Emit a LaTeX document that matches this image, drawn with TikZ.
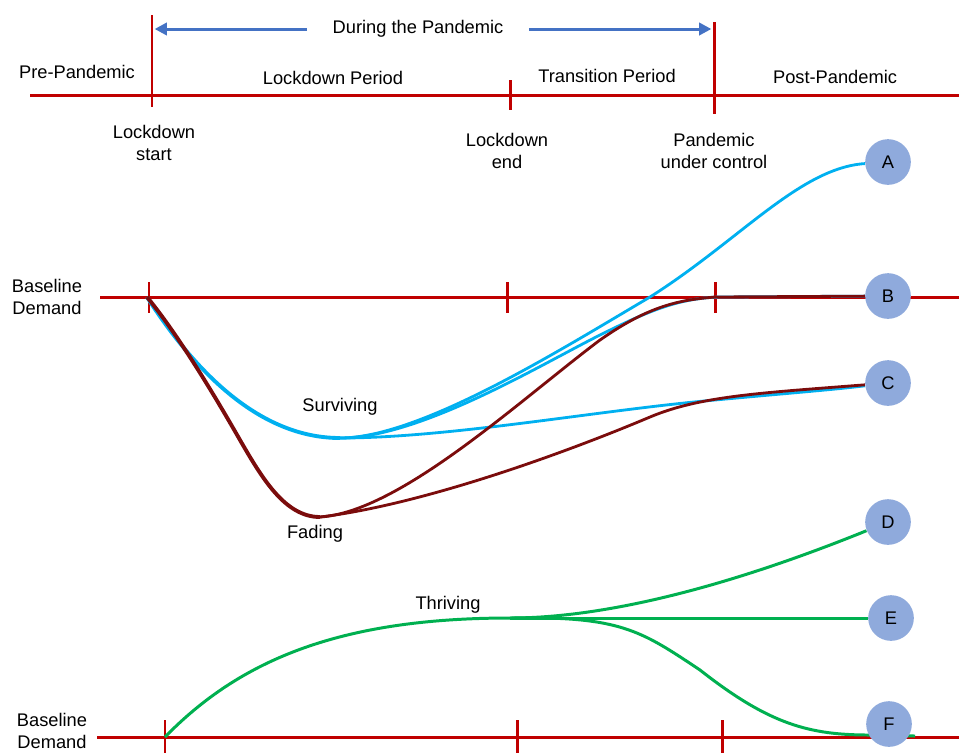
\documentclass[tikz,border=0pt]{standalone}
\usepackage{fontspec}
\setmainfont{Liberation Sans}
\usetikzlibrary{arrows.meta,positioning}

\definecolor{axisred}{HTML}{C00000}
\definecolor{survblue}{HTML}{00B0F0}
\definecolor{fadered}{HTML}{7B0C0C}
\definecolor{thrivegreen}{HTML}{00B050}
\definecolor{arrowblue}{HTML}{4472C4}
\definecolor{endfill}{HTML}{8FAADC}

\pgfdeclarelayer{bg}
\pgfsetlayers{bg,main}

\def\topy{95}
\def\midy{297}
\def\boty{737}

\tikzset{
  axis/.style={draw=axisred, line width=1.7pt},
  survive/.style={draw=survblue, line width=1.6pt},
  fade/.style={draw=fadered, line width=1.6pt},
  thrive/.style={draw=thrivegreen, line width=1.7pt},
  pandarrow/.style={draw=arrowblue, line width=1.7pt,
    -{Triangle[length=7pt,width=7pt]}, shorten >=1.5pt},
  endpt/.style={circle, fill=endfill, minimum size=26pt, inner sep=0pt},
  lbl/.style={align=center, font=\fontsize{10.4}{12.5}\selectfont},
}

\begin{document}
\begin{tikzpicture}[x=0.02cm, y=-0.02cm, nodes={lbl}]
\useasboundingbox (0,0) rectangle (959,752);

% time line at the top
\coordinate (ls) at (152,\topy);
\coordinate (le) at (510,\topy);
\coordinate (pc) at (714,\topy);
\draw[axis] (30,\topy) -- (959,\topy);
\draw[axis] ([yshift=45.4pt]ls) -- ([yshift=-6.8pt]ls);
\draw[axis] ([yshift=8.5pt]le) -- ([yshift=-8.5pt]le);
\draw[axis] ([yshift=41.4pt]pc) -- ([yshift=-10.8pt]pc);

\node (pre)   at (77,72)  {Pre-Pandemic};
\node (lockp) at (333,78) {Lockdown Period};
\node (trans) at (607,76) {Transition Period};
\node (post)  at (835,77) {Post-Pandemic};

\node (during) at (418,29) {During the Pandemic};
\draw[pandarrow] ([xshift=-11pt]during.west) -- (ls |- during);
\draw[pandarrow] ([xshift=11pt]during.east) -- (pc |- during);

\node (lsl) at (154,143) {Lockdown\\start};
\node (lel) at (507,151) {Lockdown\\end};
\node (pcl) at (714,151) {Pandemic\\under control};

% end points
\foreach \name/\xx/\yy in {
    A/888/162,
    B/888/296,
    C/888/383,
    D/888/522,
    E/891/618,
    F/889/724%
  } {
    \node[endpt] (\name) at (\xx,\yy) {\name};
  }

% base lines
\node (base1) at (47,\midy) {Baseline\\Demand};
\node (base2) at (52,731)   {Baseline\\Demand};
\coordinate (mstart) at (147,\midy);
\coordinate (bstart) at (165,\boty);
\coordinate (sdip)   at (340,438);     % bottom of Surviving
\coordinate (fdip)   at (320,517);     % bottom of Fading
\coordinate (tplat)  at (510,618);     % plateau of Thriving
\coordinate (fend)   at (915,736);

\begin{pgfonlayer}{bg}
  \draw[axis] (100,\midy) -- (959,\midy);
  \draw[axis] (97,\boty) -- (959,\boty);
  \foreach \xx in {149,507,715} {
    \draw[axis] (\xx,282) -- (\xx,313);
  }
  \foreach \xx in {165,517,722} {
    \draw[axis] (\xx,720) -- (\xx,754);
  }

  % Surviving
  \draw[survive, line width=2.2pt] (mstart) .. controls (195,372) and (260,438) .. (sdip);
  \draw[survive] (sdip) .. controls (420,438) and (560,350) .. (650,297)
    .. controls (740,240) and (800,168) .. (A);
  \draw[survive] (sdip) .. controls (420,438) and (540,365) .. (600,335)
    .. controls (650,310) and (680,298) .. (720,297) -- (B);
  \draw[survive] (sdip) .. controls (450,438) and (600,410) .. (715,400)
    .. controls (790,393) and (830,390) .. (C);

  % Fading
  \draw[fade, line width=2.2pt] (mstart) .. controls (170,325) and (200,370) .. (240,440)
    .. controls (262,478) and (285,517) .. (fdip);
  \draw[fade] (fdip) .. controls (400,512) and (520,400) .. (600,340)
    .. controls (650,305) and (680,300) .. (715,297) -- (B);
  \draw[fade] (fdip) .. controls (420,505) and (560,455) .. (650,417)
    .. controls (700,396) and (760,393) .. (C);

  % Thriving
  \draw[thrive] (bstart) .. controls (240,660) and (340,618) .. (tplat);
  \draw[thrive] (tplat) .. controls (600,618) and (720,590) .. (D);
  \draw[thrive] (tplat) -- (E);
  \draw[thrive] (tplat) .. controls (620,616) and (640,630) .. (700,670)
    .. controls (770,725) and (810,735) .. (870,735) -- (fend);
\end{pgfonlayer}

\node (surv)   at (340,407) {Surviving};
\node (fading) at (315,534) {Fading};
\node (thriv)  at (448,605) {Thriving};
\end{tikzpicture}
\end{document}
